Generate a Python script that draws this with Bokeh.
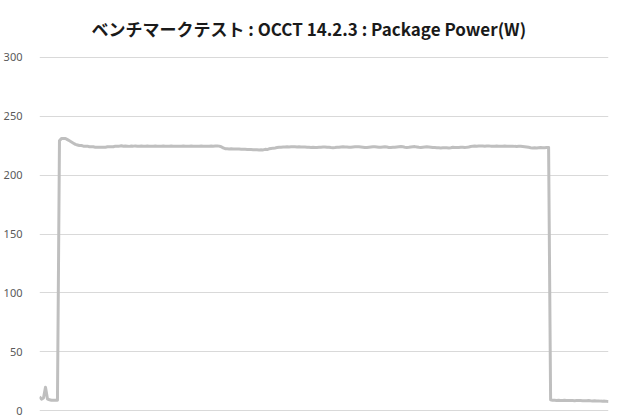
from bokeh.plotting import figure
from bokeh.models import Range1d, FixedTicker, ColumnDataSource
from bokeh.embed import file_html
from bokeh.resources import INLINE

title_text = "ベンチマークテスト : OCCT 14.2.3 : Package Power(W)"
y_ticks = [0, 50, 100, 150, 200, 250, 300]

# Package power (W), one sample per step
power = [
    12, 10, 11, 20, 10, 9.5, 9, 9, 9, 9,
    229, 231, 231, 231, 230, 229, 228, 227, 226, 225.5,
    225, 225, 224.5, 224.5, 224.5, 224, 224, 224, 223.5, 223.5,
    223.5, 223.5, 223.5, 223.5, 224, 224, 224, 224, 224.5, 224.5,
    224.5, 224.8, 224.4, 224.6, 224.5, 224.3, 224.6, 224.5, 224.7, 224.4,
    224.5, 224.6, 224.4, 224.5, 224.6, 224.5, 224.4, 224.5, 224.6, 224.5,
    224.5, 224.4, 224.6, 224.5, 224.5, 224.4, 224.6, 224.5, 224.5, 224.4,
    224.5, 224.5, 224.6, 224.4, 224.5, 224.5, 224.6, 224.5, 224.4, 224.5,
    224.5, 224.6, 224.5, 224.4, 224.5, 224.5, 224.6, 224.5, 224.6, 224.7,
    224.5, 224.0, 223.0, 222.3, 222.2, 222.1, 222.2, 222.0, 222.1, 222.0,
    222.0, 221.9, 221.8, 221.8, 221.7, 221.6, 221.6, 221.5, 221.4, 221.5,
    221.3, 221.5, 221.3, 221.8, 221.6, 222.2, 222.5, 222.8, 223.0, 223.3,
    223.5, 223.6, 223.7, 223.8, 223.9, 223.8, 223.9, 224.0, 223.9, 223.8,
    223.9, 223.8, 223.8, 223.7, 223.6, 223.5, 223.4, 223.5, 223.3, 223.4,
    223.5, 223.6, 223.7, 223.8, 223.6, 223.5, 223.3, 223.2, 223.3, 223.5,
    223.6, 223.8, 224.0, 223.8, 223.7, 223.6, 223.5, 223.7, 223.9, 224.0,
    223.9, 223.8, 223.6, 223.4, 223.3, 223.5, 223.7, 223.9, 224.0, 223.8,
    223.6, 223.5, 223.7, 223.9, 223.7, 223.4, 223.3, 223.5, 223.6, 223.8,
    224.0, 224.1, 223.9, 223.6, 223.4, 223.5, 223.7, 223.9, 224.1, 223.8,
    223.5, 223.4, 223.6, 223.8, 224.0, 223.8, 223.6, 223.4, 223.3, 223.2,
    223.1, 223.0, 223.1, 223.2, 223.1, 223.0, 223.2, 223.5, 223.3, 223.4,
    223.3, 223.5, 223.6, 223.4, 223.5, 223.8, 224.2, 224.5, 224.6, 224.5,
    224.6, 224.7, 224.6, 224.5, 224.6, 224.7, 224.5, 224.4, 224.5, 224.6,
    224.5, 224.4, 224.5, 224.6, 224.4, 224.3, 224.4, 224.5, 224.3, 224.2,
    224.3, 224.4, 224.2, 224.0, 223.8, 223.5, 223.2, 223.0, 223.1, 223.0,
    223.2, 223.3, 223.1, 223.2, 223.3, 223.4,
    9.5, 9.0, 9.0, 8.9, 9.0, 8.9, 8.8, 9.0, 8.9, 8.8,
    8.9, 8.8, 8.7, 8.8, 8.9, 8.8, 8.7, 8.6, 8.7, 8.8,
    8.6, 8.5, 8.6, 8.4, 8.5, 8.3, 8.2, 8.3, 8.1, 8.0,
]
sample = list(range(len(power)))

source = ColumnDataSource(data=dict(sample=sample, power=power))

p = figure(
    width=620, height=420,
    output_backend="svg", toolbar_location=None,
    x_range=Range1d(0, len(power) - 1), y_range=Range1d(-0.5, 300.5),
    min_border_left=37, min_border_right=12, min_border_top=56, min_border_bottom=9,
)

p.title.text = title_text
p.title.align = "left"
p.title.offset = 52
p.title.vertical_align = "top"
p.title.text_font = "Noto Sans CJK JP"
p.title.text_font_size = "17px"
p.title.text_font_style = "bold"
p.title.text_color = "#1a1a1a"
p.title.standoff = 28

p.line("sample", "power", source=source, line_color="#BFBFBF", line_width=3,
       line_join="round")

p.xaxis.visible = False
p.xgrid.visible = False
p.ygrid.grid_line_color = "#D9D9D9"
p.ygrid.grid_line_width = 1
p.outline_line_color = None

yaxis = p.yaxis[0]
yaxis.ticker = FixedTicker(ticks=y_ticks)
yaxis.axis_line_color = None
yaxis.major_tick_line_color = None
yaxis.minor_tick_line_color = None
yaxis.major_label_text_color = "#595959"
yaxis.major_label_text_font = "Noto Sans"
yaxis.major_label_text_font_size = "11px"
yaxis.major_label_standoff = 11

open("out.html", "w").write(file_html(p, INLINE))
